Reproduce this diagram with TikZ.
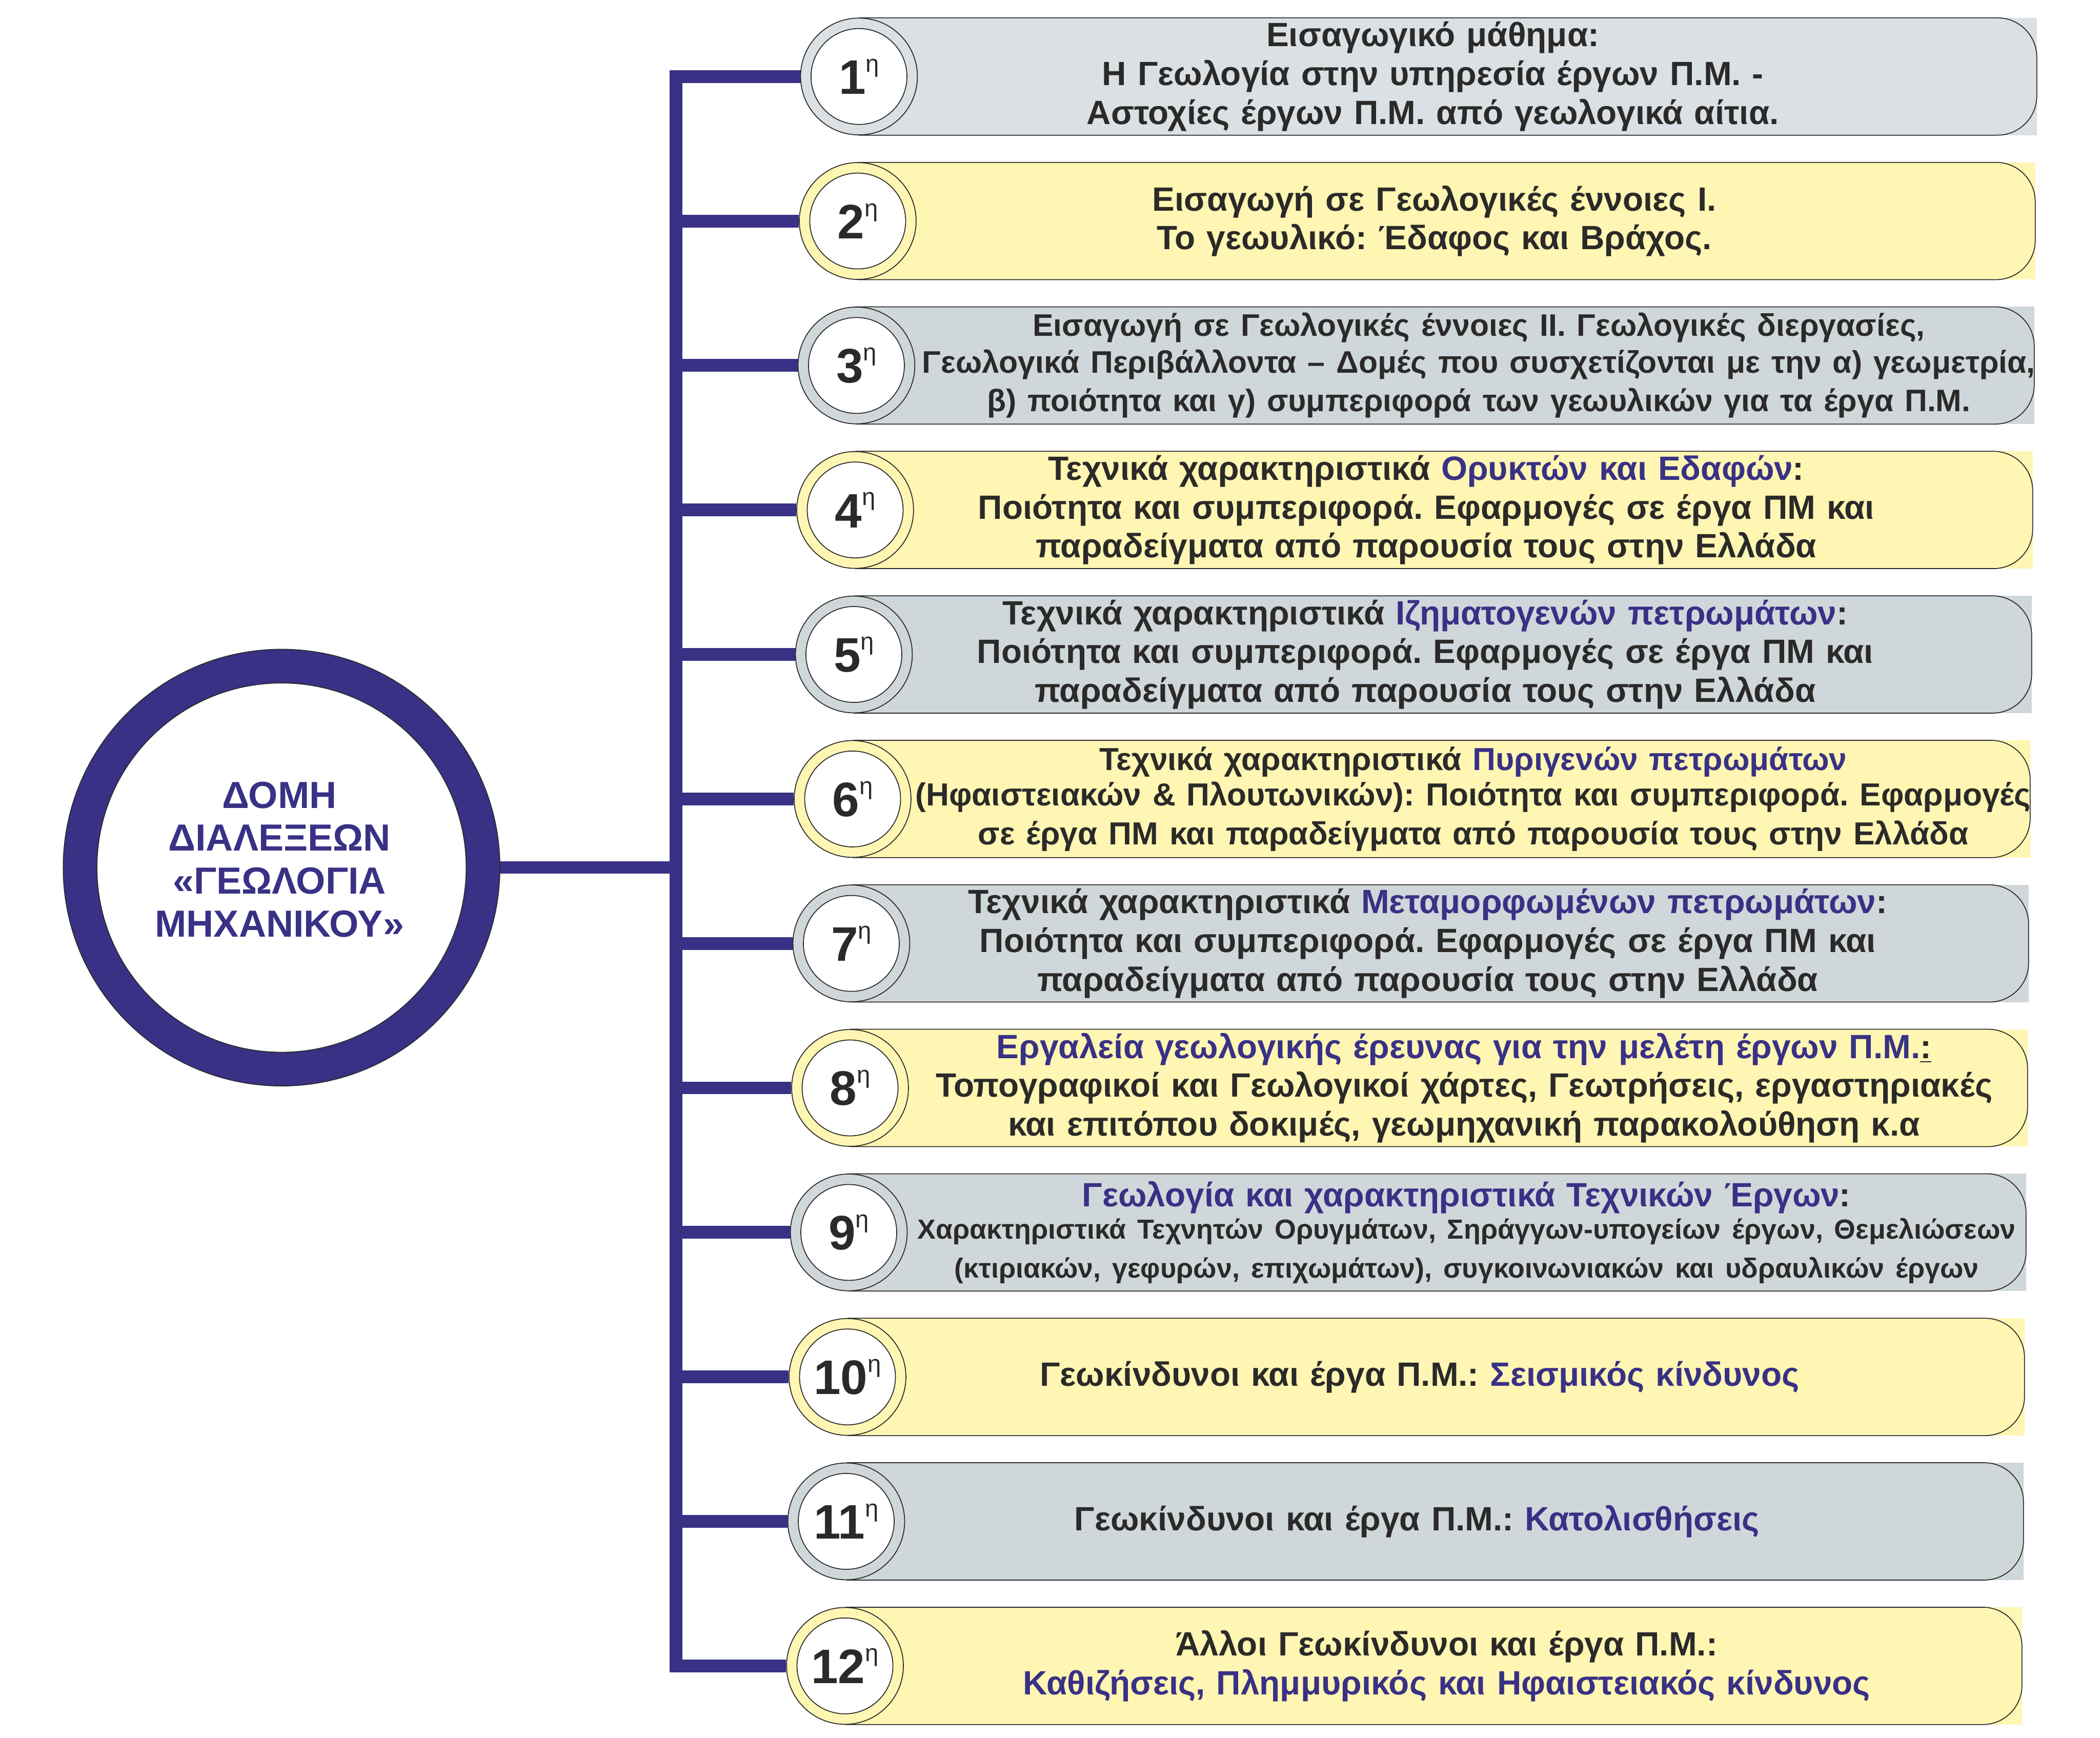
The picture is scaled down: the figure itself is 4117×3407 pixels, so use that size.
\documentclass[tikz,border=0pt]{standalone}
\usepackage{fontspec}
\setmainfont{Liberation Sans}
\frenchspacing
\definecolor{navy}{HTML}{393185}
\definecolor{ink}{HTML}{2B2A29}
\definecolor{greyA}{HTML}{DAE0E3}
\definecolor{greyB}{HTML}{D0D7DB}
\definecolor{yel}{HTML}{FFF6B3}
\newcommand\bl[1]{\textcolor{navy}{#1}}
\newcommand\numtxt[1]{{\fontsize{19pt}{19pt}\selectfont\bfseries #1}\raisebox{8.7pt}{\fontsize{9.5pt}{9.5pt}\selectfont η}}
\tikzset{
  boxline/.style={draw=ink,line width=0.35pt,rounded corners=15.4pt},
  outerc/.style={circle,draw=ink,line width=0.35pt,minimum size=45.8pt,inner sep=0pt},
  innerc/.style={circle,draw=ink,fill=white,line width=0.35pt,minimum size=37.6pt,inner sep=0pt,text=ink},
  branch/.style={draw=navy,line width=5pt},
  txt/.style={align=center,text width=520pt,text=ink,inner sep=0pt,font=\bfseries\fontsize{13.2pt}{15.2pt}\selectfont},
}
% #1 index, #2 centre y, #3 circle x, #4 right x, #5 fill, #6 text x, #7 text
\newcommand\lecture[7]{%
  \fill[#5] (#3,#2-115) -- (#4,#2-115) -- (#4,#2+115) -- (#3,#2+115) -- cycle;
  \draw[boxline,fill=#5] (#3,#2-115) -- (#4,#2-115) -- (#4,#2+115) -- (#3,#2+115);
  \coordinate (j#1) at (1325.5,#2);
  \node[outerc,fill=#5] (n#1) at (#3,#2) {};
  \draw[branch] (j#1) -- (n#1.west);
  \node[innerc] (m#1) at (#3,#2) {\numtxt{#1}};
  \node[txt] (t#1) at (#6,#2) {#7};
}
\begin{document}
\begin{tikzpicture}[x=0.2pt,y=-0.2pt]
\useasboundingbox (0,0) rectangle (4117,3407);
\fill[white] (0,0) rectangle (4117,3407);

% trunk
\coordinate (bartop) at (1325.5,137.5);
\coordinate (barbot) at (1325.5,3278.5);
\draw[branch] (bartop) -- (barbot);

\lecture{1}{150.0}{1684}{3993}{greyA}{2809}{Εισαγωγικό μάθημα:\\ Η Γεωλογία στην υπηρεσία έργων Π.Μ. -\\ Αστοχίες έργων Π.Μ. από γεωλογικά αίτια.}
\lecture{2}{433.3}{1681.5}{3990}{yel}{2812}{Εισαγωγή σε Γεωλογικές έννοιες Ι.\\ Το γεωυλικό: Έδαφος και Βράχος.}
\lecture{3}{716.5}{1679}{3988}{greyB}{2899}{\fontsize{12.2pt}{14.4pt}\selectfont Εισαγωγή σε Γεωλογικές έννοιες ΙΙ. Γεωλογικές διεργασίες,\\ Γεωλογικά Περιβάλλοντα – Δομές που συσχετίζονται με την α) γεωμετρία,\\ β) ποιότητα και γ) συμπεριφορά των γεωυλικών για τα έργα Π.Μ.}
\lecture{4}{999.8}{1676.5}{3985}{yel}{2796}{Τεχνικά χαρακτηριστικά \bl{Ορυκτών και Εδαφών}:\\ Ποιότητα και συμπεριφορά. Εφαρμογές σε έργα ΠΜ και\\ παραδείγματα από παρουσία τους στην Ελλάδα}
\lecture{5}{1283.1}{1674}{3983}{greyB}{2794}{Τεχνικά χαρακτηριστικά \bl{Ιζηματογενών πετρωμάτων}:\\ Ποιότητα και συμπεριφορά. Εφαρμογές σε έργα ΠΜ και\\ παραδείγματα από παρουσία τους στην Ελλάδα}
\lecture{6}{1566.4}{1671.5}{3980}{yel}{2888}{\fontsize{12.5pt}{14pt}\selectfont Τεχνικά χαρακτηριστικά \bl{Πυριγενών πετρωμάτων}\\ (Ηφαιστειακών \& Πλουτωνικών): Ποιότητα και συμπεριφορά. Εφαρμογές\\ σε έργα ΠΜ και παραδείγματα από παρουσία τους στην Ελλάδα}
\lecture{7}{1849.6}{1669}{3977}{greyB}{2799}{Τεχνικά χαρακτηριστικά \bl{Μεταμορφωμένων πετρωμάτων}:\\ Ποιότητα και συμπεριφορά. Εφαρμογές σε έργα ΠΜ και\\ παραδείγματα από παρουσία τους στην Ελλάδα}
\lecture{8}{2132.9}{1666.5}{3975}{yel}{2870}{\bl{Εργαλεία γεωλογικής έρευνας για την μελέτη έργων Π.Μ.}\underline{:}\\ Τοπογραφικοί και Γεωλογικοί χάρτες, Γεωτρήσεις, εργαστηριακές\\ και επιτόπου δοκιμές, γεωμηχανική παρακολούθηση κ.α}
\lecture{9}{2416.2}{1664}{3972}{greyB}{2875}{\bl{Γεωλογία και χαρακτηριστικά Τεχνικών Έργων}:\\ \fontsize{10.8pt}{12.8pt}\selectfont Χαρακτηριστικά Τεχνητών Ορυγμάτων, Σηράγγων-υπογείων έργων, Θεμελιώσεων\\ (κτιριακών, γεφυρών, επιχωμάτων), συγκοινωνιακών και υδραυλικών έργων}
\lecture{10}{2699.5}{1661.5}{3969}{yel}{2783}{Γεωκίνδυνοι και έργα Π.Μ.: \bl{Σεισμικός κίνδυνος}}
\lecture{11}{2982.7}{1659}{3967}{greyB}{2778}{Γεωκίνδυνοι και έργα Π.Μ.: \bl{Κατολισθήσεις}}
\lecture{12}{3266.0}{1656.5}{3964}{yel}{2836}{Άλλοι Γεωκίνδυνοι και έργα Π.Μ.:\\ \bl{Καθιζήσεις, Πλημμυρικός και Ηφαιστειακός κίνδυνος}}

% hub
\node[circle,fill=navy,draw=ink,line width=0.35pt,minimum size=171.2pt,inner sep=0pt] (hub) at (552,1701) {};
\draw[draw=navy,line width=4.8pt] (hub.east) -- (hub.east -| bartop);
\node[circle,fill=white,draw=ink,line width=0.35pt,minimum size=144.8pt,inner sep=0pt] (hubin) at (552,1701) {};
\node[align=center,text=navy,inner sep=0pt,font=\bfseries\fontsize{14.8pt}{16.8pt}\selectfont] (hubtxt) at (548,1685) {ΔΟΜΗ\\ΔΙΑΛΕΞΕΩΝ\\«ΓΕΩΛΟΓΙΑ\\ΜΗΧΑΝΙΚΟΥ»};
\end{tikzpicture}
\end{document}
